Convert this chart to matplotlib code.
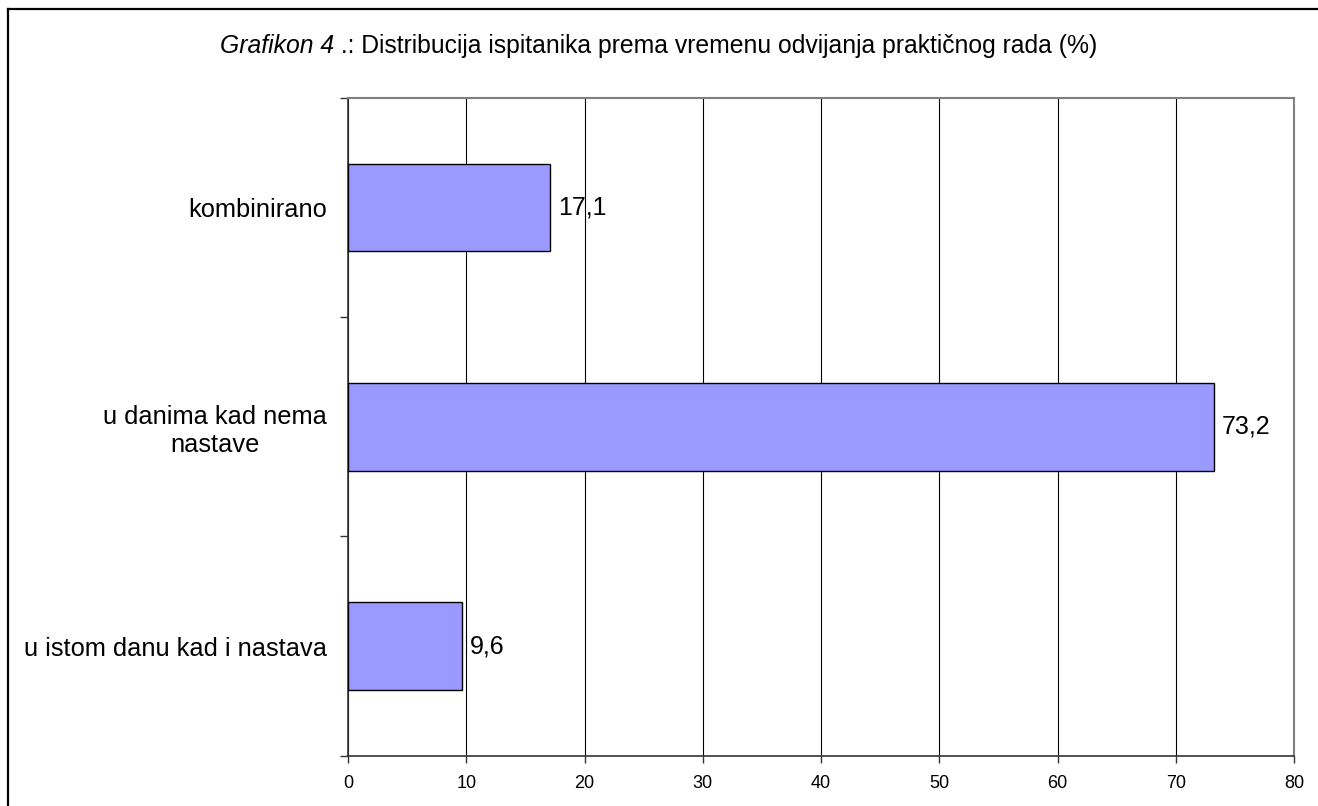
import matplotlib
matplotlib.use("Agg")
import matplotlib.pyplot as plt
from matplotlib.lines import Line2D

plt.rcParams['font.family'] = ['Liberation Sans', 'DejaVu Sans']

categories = ["u istom danu kad i nastava", "u danima kad nema\nnastave", "kombinirano"]
values = [9.6, 73.2, 17.1]
value_labels = ["9,6", "73,2", "17,1"]
x_ticks = [0, 10, 20, 30, 40, 50, 60, 70, 80]
title_italic = "Grafikon 4"
title_rest = " .: Distribucija ispitanika prema vremenu odvijanja praktičnog rada (%)"

W, H = 1318, 806
fig = plt.figure(figsize=(W / 100, H / 100), dpi=100)
ax = fig.add_axes([348 / W, 1 - 755.7 / H, (1294 - 348) / W, (755.7 - 97.7) / H])

ypos = list(range(len(categories)))
ax.barh(ypos, values, height=0.4, color="#9999FF", edgecolor="black", linewidth=1.0, zorder=3)

for y, v, lab in zip(ypos, values, value_labels):
    ax.annotate(lab, xy=(v, y), xytext=(6, 0), textcoords="offset points",
                ha="left", va="center", fontsize=18, zorder=4)

ax.set_xlim(0, 80)
ax.set_ylim(-0.5, 2.5)
ax.set_xticks(x_ticks)
ax.set_xticklabels([str(t) for t in x_ticks], fontsize=13)
ax.tick_params(axis="x", direction="out", length=5, width=1, pad=9, color="#333333")

ax.set_yticks(ypos)
ax.set_yticklabels(categories, fontsize=18.3, multialignment="center")
ax.tick_params(axis="y", which="major", length=0, pad=15)
ax.set_yticks([-0.5, 0.5, 1.5, 2.5], minor=True)
ax.tick_params(axis="y", which="minor", direction="out", length=6, width=1, color="#333333")

ax.grid(axis="x", color="black", linewidth=0.8, zorder=0)
ax.set_axisbelow(True)

for s in ["left", "bottom"]:
    ax.spines[s].set_color("#333333")
    ax.spines[s].set_linewidth(1.2)
for s in ["top", "right"]:
    ax.spines[s].set_color("#808080")
    ax.spines[s].set_linewidth(1.5)

# figure border (left and top visible)
fig.add_artist(Line2D([7.5 / W, 7.5 / W], [0, 1 - 9 / H], transform=fig.transFigure, color="black", linewidth=1.6))
fig.add_artist(Line2D([7.5 / W, 1], [1 - 9 / H, 1 - 9 / H], transform=fig.transFigure, color="black", linewidth=1.6))

# title: italic part + normal part, centered
ty = 1 - 46 / H
t1 = fig.text(0.5, ty, title_italic, style="italic", fontsize=17.8, ha="left", va="center")
t2 = fig.text(0.5, ty, title_rest, fontsize=17.8, ha="left", va="center")
fig.canvas.draw()
r = fig.canvas.get_renderer()
w1 = t1.get_window_extent(r).width
w2 = t2.get_window_extent(r).width
x0 = (W - (w1 + w2)) / 2
t1.set_x(x0 / W)
t2.set_x((x0 + w1) / W)

fig.savefig("out.png", dpi=100)
